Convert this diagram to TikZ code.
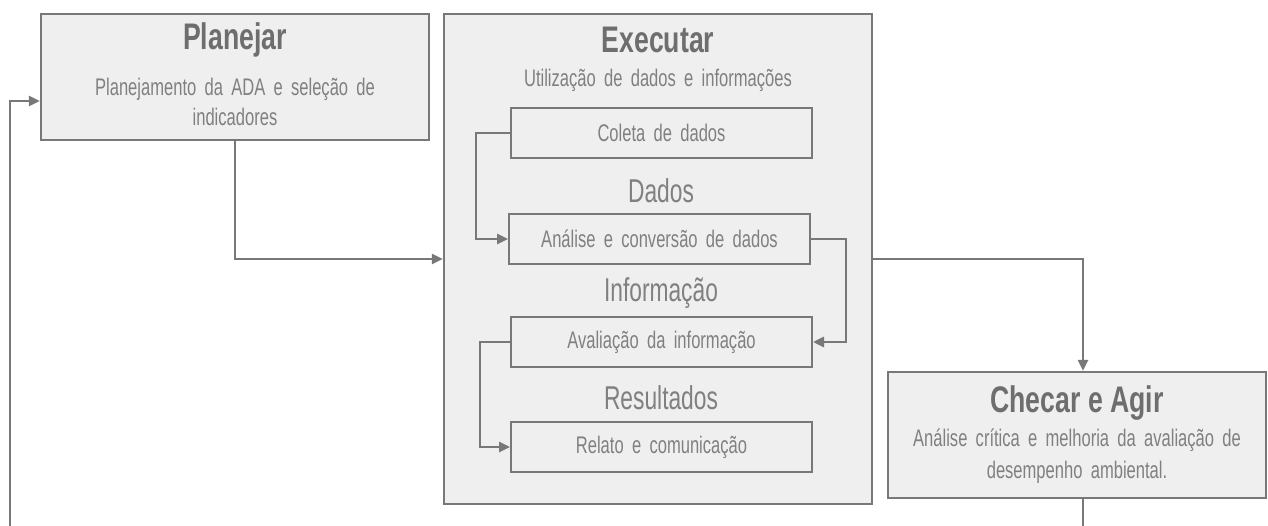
\documentclass[tikz,border=0pt]{standalone}
\usepackage{fontspec}
\setmainfont[FakeStretch=0.69,WordSpace=1.8]{Liberation Sans}
\newfontfamily\ttlfont[FakeStretch=0.72]{Liberation Sans Bold}
\usetikzlibrary{arrows.meta}
\definecolor{lineg}{HTML}{787878}
\definecolor{boxfill}{HTML}{EFEFEF}
\definecolor{txtg}{HTML}{808080}
\definecolor{ttlg}{HTML}{6E6E6E}
\tikzset{
  bigbox/.style={draw=lineg, line width=2.2pt, fill=boxfill, inner sep=0pt},
  smallbox/.style={draw=lineg, line width=2pt, fill=boxfill, inner sep=0pt, minimum width=301pt, minimum height=50pt},
  ttl/.style={text=ttlg, font=\ttlfont\fontsize{37}{40}\selectfont, inner sep=0pt},
  body/.style={text=txtg, font=\fontsize{24}{30}\selectfont, align=center, inner sep=0pt},
  lbl/.style={text=txtg, font=\fontsize{33}{36}\selectfont, inner sep=0pt},
  conn/.style={draw=lineg, line width=2.6pt, -{Triangle[length=11pt,width=10pt]}},
  plainconn/.style={draw=lineg, line width=2.6pt}
}
\begin{document}
\begin{tikzpicture}[x=1pt,y=-1pt]
\useasboundingbox (0,0) rectangle (1268,526);
% outer boxes
\node[bigbox, minimum width=388pt, minimum height=126pt] (plan) at (235,77) {};
\node[bigbox, minimum width=428pt, minimum height=490pt] (exec) at (658,259) {};
\node[bigbox, minimum width=378pt, minimum height=126pt] (chk) at (1077,435) {};
% inner boxes
\node[smallbox] (col) at (661.5,133) {};
\node[smallbox] (ana) at (659.5,239) {};
\node[smallbox] (ava) at (661.5,342) {};
\node[smallbox] (rel) at (661.5,447) {};
% texts
\node[ttl] (plant) at (235,40) {Planejar};
\node[body] (plans) at (235,102) {Planejamento da ADA e seleção de\\indicadores};
\node[ttl] (exect) at (658,40) {Executar};
\node[body] (execs) at (658,80) {Utilização de dados e informações};
\node[body] (colt) at (col) {Coleta de dados};
\node[lbl] (dados) at (661,191) {Dados};
\node[body] (anat) at (ana) {Análise e conversão de dados};
\node[lbl] (info) at (661,293) {Informação};
\node[body] (avat) at (ava) {Avaliação da informação};
\node[lbl] (res) at (661,398) {Resultados};
\node[body] (relt) at (rel) {Relato e comunicação};
\node[ttl] (chkt) at (1077,403) {Checar e Agir};
\node[body, font=\fontsize{24}{32}\selectfont] (chks) at (1077,456) {Análise crítica e melhoria da avaliação de\\desempenho ambiental.};
% connectors
\coordinate (fb) at (10,527);
\coordinate (out) at (1083,527);
\draw[conn] (plan.south) |- (exec.west);
\draw[conn] (fb) |- ([yshift=-24pt]plan.west);
\draw[conn] (exec.east) -| ([xshift=6pt]chk.north);
\draw[plainconn] ([xshift=6pt]chk.south) -- (out);
\draw[conn] (col.west) -- ++(-34,0) |- (ana.west);
\draw[conn] (ana.east) -- ++(35,0) |- (ava.east);
\draw[conn] (ava.west) -- ++(-30,0) |- (rel.west);
\end{tikzpicture}
\end{document}
